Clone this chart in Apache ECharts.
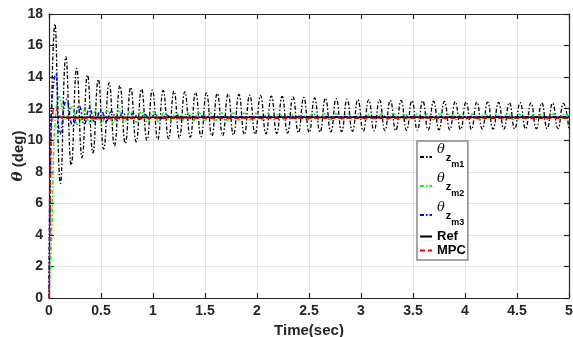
<!DOCTYPE html>
<html><head><meta charset="utf-8">
<script src="https://cdn.jsdelivr.net/npm/echarts@6/dist/echarts.min.js"></script>
<style>html,body{margin:0;padding:0;background:#fff}#c{width:573px;height:337px}</style>
</head><body><div id="c"></div>
<script>
// ---- data ----
const xTicks = [0, 0.5, 1, 1.5, 2, 2.5, 3, 3.5, 4, 4.5, 5];
const yTicks = [0, 2, 4, 6, 8, 10, 12, 14, 16, 18];

// theta_z_m1 : extrema (start, then peak, trough, peak, ...)
const m1Time = [0, 0.058, 0.110, 0.162, 0.214, 0.266, 0.318, 0.370, 0.422, 0.474, 0.526, 0.578, 0.630, 0.682, 0.734, 0.786, 0.838, 0.890, 0.942, 0.994, 1.046, 1.098, 1.150, 1.202, 1.254, 1.306, 1.358, 1.410, 1.462, 1.514, 1.566, 1.618, 1.670, 1.722, 1.774, 1.826, 1.878, 1.930, 1.982, 2.034, 2.086, 2.138, 2.190, 2.242, 2.294, 2.346, 2.398, 2.450, 2.502, 2.554, 2.606, 2.658, 2.710, 2.762, 2.814, 2.866, 2.918, 2.970, 3.022, 3.074, 3.126, 3.178, 3.230, 3.282, 3.334, 3.386, 3.438, 3.490, 3.542, 3.594, 3.646, 3.698, 3.750, 3.802, 3.854, 3.906, 3.958, 4.010, 4.062, 4.114, 4.166, 4.218, 4.270, 4.322, 4.374, 4.426, 4.478, 4.530, 4.582, 4.634, 4.686, 4.738, 4.790, 4.842, 4.894, 4.946, 4.998];
const m1Peaks = [17.37, 15.29, 14.55, 14.13, 13.86, 13.64, 13.47, 13.35, 13.24, 13.18, 13.15, 13.11, 13.07, 13.03, 13.0, 12.96, 12.93, 12.9, 12.86, 12.83, 12.8, 12.77, 12.74, 12.71, 12.68, 12.66, 12.63, 12.6, 12.58, 12.56, 12.55, 12.53, 12.52, 12.5, 12.49, 12.47, 12.46, 12.45, 12.43, 12.42, 12.41, 12.4, 12.39, 12.38, 12.37, 12.36, 12.35, 12.34];
const m1Troughs = [7.26, 8.42, 8.9, 9.2, 9.43, 9.64, 9.8, 9.9, 10.0, 10.05, 10.1, 10.15, 10.19, 10.23, 10.27, 10.3, 10.33, 10.36, 10.38, 10.41, 10.43, 10.45, 10.47, 10.49, 10.51, 10.53, 10.55, 10.57, 10.58, 10.6, 10.61, 10.62, 10.63, 10.64, 10.65, 10.66, 10.67, 10.68, 10.69, 10.7, 10.7, 10.71, 10.72, 10.72, 10.73, 10.74, 10.74, 10.75];

// theta_z_m2 : start transient, then extrema from 0.45 s
const m2StartTime = [0, 0.025, 0.04, 0.06, 0.1, 0.165, 0.22, 0.28, 0.34, 0.395];
const m2StartValue = [0, 4, 8, 11.2, 12.75, 11.3, 12.1, 10.95, 11.9, 11.05];
const m2Time = [0.45, 0.505, 0.56, 0.615, 0.67, 0.725, 0.78, 0.835, 0.89, 0.945, 1.0, 1.055, 1.11, 1.165, 1.22, 1.275, 1.33, 1.385, 1.44, 1.495, 1.55, 1.605, 1.66, 1.715, 1.77, 1.825, 1.88, 1.935, 1.99, 2.045, 2.1, 2.155, 2.21, 2.265, 2.32, 2.375, 2.43, 2.485, 2.54, 2.595, 2.65, 2.705, 2.76, 2.815, 2.87, 2.925, 2.98, 3.035, 3.09, 3.145, 3.2, 3.255, 3.31, 3.365, 3.42, 3.475, 3.53, 3.585, 3.64, 3.695, 3.75, 3.805, 3.86, 3.915, 3.97, 4.025, 4.08, 4.135, 4.19, 4.245, 4.3, 4.355, 4.41, 4.465, 4.52, 4.575, 4.63, 4.685, 4.74, 4.795, 4.85, 4.905, 4.96];
const m2Peaks = [11.87, 11.86, 11.85, 11.83, 11.82, 11.8, 11.78, 11.76, 11.75, 11.74, 11.73, 11.72, 11.72, 11.71, 11.71, 11.7, 11.7, 11.7, 11.69, 11.69, 11.69, 11.69, 11.68, 11.68, 11.68, 11.68, 11.68, 11.68, 11.67, 11.67, 11.67, 11.67, 11.67, 11.67, 11.67, 11.66, 11.66, 11.66, 11.66, 11.66, 11.66, 11.66];
const m2Troughs = [11.1, 11.12, 11.13, 11.15, 11.17, 11.19, 11.21, 11.23, 11.24, 11.25, 11.26, 11.27, 11.28, 11.28, 11.29, 11.29, 11.29, 11.3, 11.3, 11.3, 11.3, 11.31, 11.31, 11.31, 11.31, 11.31, 11.32, 11.32, 11.32, 11.32, 11.32, 11.32, 11.32, 11.33, 11.33, 11.33, 11.33, 11.33, 11.33, 11.33, 11.33];
const m2EndTime = [5.0];
const m2EndValue = [11.5];

// theta_z_m3
const m3Time = [0, 0.012, 0.03, 0.065, 0.107, 0.17, 0.23, 0.29, 0.34, 0.39, 0.44, 0.5, 0.55, 0.6, 0.66, 0.71, 0.76, 0.81, 0.87, 0.92, 0.97, 1.02, 1.08, 1.13, 1.18, 1.24, 1.3, 1.36, 1.42, 1.48, 1.55, 1.62, 1.7, 5];
const m3Value = [0, 9, 12.6, 14.2, 10.4, 12.59, 10.9, 12.16, 11.02, 12.02, 11.17, 11.9, 11.2, 11.8, 11.25, 11.75, 11.3, 11.7, 11.33, 11.65, 11.35, 11.62, 11.38, 11.6, 11.4, 11.57, 11.42, 11.55, 11.44, 11.53, 11.46, 11.51, 11.48, 11.49];

// Ref
const refTime = [0, 5];
const refValue = [11.45, 11.45];

// MPC
const mpcTime = [0, 0.01, 0.02, 0.04, 0.065, 0.09, 0.12, 0.16, 5];
const mpcValue = [0, 5, 10.2, 11.9, 12.05, 11.7, 11.42, 11.4, 11.4];

// ---- build series data ----
function pairs(t, v) { const n = Math.min(t.length, v.length); const o = []; for (let i = 0; i < n; i++) o.push([t[i], v[i]]); return o; }
function alternate(p, q) { const o = []; const n = Math.max(p.length, q.length); for (let i = 0; i < n; i++) { if (i < p.length) o.push(p[i]); if (i < q.length) o.push(q[i]); } return o; }

const m1Data = pairs(m1Time, [0].concat(alternate(m1Peaks, m1Troughs)));
const m2Data = pairs(m2StartTime, m2StartValue)
  .concat(pairs(m2Time, alternate(m2Peaks, m2Troughs)))
  .concat(pairs(m2EndTime, m2EndValue));
const m3Data = pairs(m3Time, m3Value);
const refData = pairs(refTime, refValue);
const mpcData = pairs(mpcTime, mpcValue);

const AX = '#262626';
const FONT = 'Liberation Sans, Arial, Helvetica, sans-serif';
const dashDot = [4, 2, 1.5, 2];

const chart = echarts.init(document.getElementById('c'), null, { renderer: 'canvas' });
const names = ['m1', 'm2', 'm3', 'Ref', 'MPC'];
const subRich = {
  th: { fontSize: 13, fontStyle: 'italic', fontFamily: 'DejaVu Serif, serif', color: '#000', lineHeight: 14, padding: [0, 0, 14, 0] },
  z: { fontSize: 11, fontWeight: 'bold', fontFamily: FONT, color: '#000', lineHeight: 11, padding: [9, 0, 8, 1] },
  m: { fontSize: 9, fontWeight: 'bold', fontFamily: FONT, color: '#000', lineHeight: 9, padding: [17, 0, 2, 0] },
  b: { fontSize: 13, fontWeight: 'bold', fontFamily: FONT, color: '#000', lineHeight: 15 }
};

chart.setOption({
  animation: false,
  backgroundColor: '#fff',
  grid: { left: 49, right: 4, top: 14, bottom: 39, containLabel: false, outerBoundsMode: 'none' },
  legend: {
    orient: 'vertical', left: 417, top: 141,
    data: names,
    itemWidth: 12, itemHeight: 8, itemGap: 1,
    padding: [2, 2, 3, 2],
    borderColor: '#888', borderWidth: 1.5, backgroundColor: '#fff',
    itemStyle: { color: 'rgba(0,0,0,0)', borderWidth: 0, opacity: 0 },
    textStyle: { rich: subRich },
    formatter: function (n) {
      if (n === 'm1' || n === 'm2' || n === 'm3') return '{th|θ}{z|z}{m|' + n + '}';
      return '{b|' + n + '}';
    }
  },
  xAxis: [{
    type: 'value', min: 0, max: 5, interval: 0.5,
    name: 'Time(sec)', nameLocation: 'middle', nameGap: 21,
    nameTextStyle: { fontSize: 15, fontWeight: 'bold', fontFamily: FONT, color: '#262626' },
    axisLine: { show: true, onZero: false, lineStyle: { color: AX, width: 1.2 } },
    axisTick: { show: true, inside: true, length: 5, lineStyle: { color: AX, width: 1.2 } },
    axisLabel: { fontSize: 14, fontWeight: 'bold', fontFamily: FONT, color: '#262626', margin: 6,
      formatter: function (v) { return xTicks.indexOf(v) >= 0 ? String(v) : ''; } },
    splitLine: { show: true, lineStyle: { color: '#e3e3e3', width: 1 } }
  }, {
    type: 'value', min: 0, max: 5, interval: 0.5, position: 'top',
    axisLine: { show: true, onZero: false, lineStyle: { color: AX, width: 1.2 } },
    axisTick: { show: true, inside: true, length: 5, lineStyle: { color: AX, width: 1.2 } },
    axisLabel: { show: false }, splitLine: { show: false }
  }],
  yAxis: [{
    type: 'value', min: 0, max: 18, interval: 2,
    name: '{it|θ} (deg)', nameLocation: 'middle', nameGap: 23, nameRotate: 90, nameMoveOverlap: false,
    nameTextStyle: { fontSize: 15, fontWeight: 'bold', fontFamily: FONT, color: '#262626',
      rich: { it: { fontSize: 15, fontStyle: 'italic', fontFamily: 'DejaVu Serif, serif', color: '#262626' } } },
    axisLine: { show: true, onZero: false, lineStyle: { color: AX, width: 1.2 } },
    axisTick: { show: true, inside: true, length: 5, lineStyle: { color: AX, width: 1.2 } },
    axisLabel: { fontSize: 14, fontWeight: 'bold', fontFamily: FONT, color: '#262626', margin: 6,
      formatter: function (v) { return yTicks.indexOf(v) >= 0 ? String(v) : ''; } },
    splitLine: { show: true, lineStyle: { color: '#e3e3e3', width: 1 } }
  }, {
    type: 'value', min: 0, max: 18, interval: 2, position: 'right',
    axisLine: { show: true, onZero: false, lineStyle: { color: AX, width: 1.2 } },
    axisTick: { show: true, inside: true, length: 5, lineStyle: { color: AX, width: 1.2 } },
    axisLabel: { show: false }, splitLine: { show: false }
  }],
  series: [
    { name: 'm1', type: 'line', data: m1Data, smooth: 0.5, symbol: 'none', color: '#000',
      lineStyle: { color: '#000', width: 1.3, type: dashDot } },
    { name: 'm2', type: 'line', data: m2Data, smooth: 0.5, symbol: 'none', color: '#00ff00',
      lineStyle: { color: '#00ff00', width: 1.5, type: dashDot } },
    { name: 'm3', type: 'line', data: m3Data, smooth: 0.5, symbol: 'none', color: '#0000ff',
      lineStyle: { color: '#0000ff', width: 1.5, type: dashDot } },
    { name: 'Ref', type: 'line', data: refData, symbol: 'none', color: '#000',
      lineStyle: { color: '#000', width: 1.5, type: 'solid' } },
    { name: 'MPC', type: 'line', data: mpcData, smooth: 0.4, symbol: 'none', color: '#ff0000',
      lineStyle: { color: '#ff0000', width: 1.5, type: [5, 3] } }
  ]
});
</script></body></html>
